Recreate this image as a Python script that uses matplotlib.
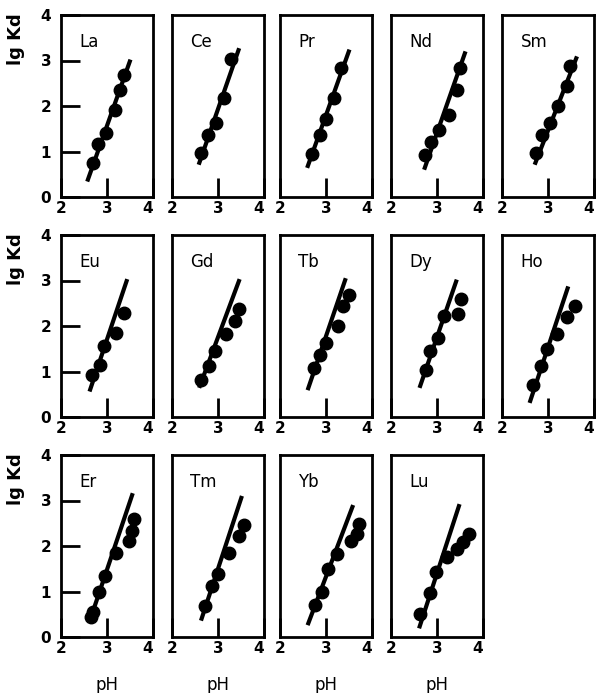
import matplotlib
matplotlib.use('Agg')
import matplotlib.pyplot as plt

# element names, in panel order (row by row)
labels = ['La', 'Ce', 'Pr', 'Nd', 'Sm',
          'Eu', 'Gd', 'Tb', 'Dy', 'Ho',
          'Er', 'Tm', 'Yb', 'Lu']

# fitted straight line for each panel: (pH start, pH end), (lg Kd start, lg Kd end)
fit_ph = [(2.57, 3.51), (2.58, 3.46), (2.59, 3.51), (2.72, 3.62), (2.71, 3.63),
          (2.62, 3.44), (2.59, 3.47), (2.60, 3.43), (2.62, 3.43), (2.60, 3.44),
          (2.62, 3.56), (2.63, 3.52), (2.60, 3.59), (2.61, 3.49)]
fit_kd = [(0.34, 3.02), (0.71, 3.27), (0.64, 3.24), (0.60, 3.20), (0.71, 3.09),
          (0.56, 3.03), (0.64, 3.03), (0.59, 3.05), (0.64, 3.02), (0.31, 2.87),
          (0.34, 3.16), (0.36, 3.10), (0.26, 2.90), (0.19, 2.92)]

# measured points
ph_points = [
    [2.70, 2.81, 2.98, 3.17, 3.28, 3.36],
    [2.64, 2.78, 2.95, 3.14, 3.28],
    [2.70, 2.86, 2.99, 3.18, 3.33],
    [2.73, 2.88, 3.04, 3.25, 3.44, 3.49],
    [2.73, 2.86, 3.04, 3.22, 3.41, 3.47],
    [2.67, 2.85, 2.93, 3.20, 3.38],
    [2.62, 2.80, 2.93, 3.17, 3.38, 3.46],
    [2.74, 2.88, 3.00, 3.25, 3.38, 3.51],
    [2.75, 2.85, 3.03, 3.16, 3.46, 3.52],
    [2.67, 2.84, 2.97, 3.20, 3.42, 3.59],
    [2.66, 2.70, 2.82, 2.96, 3.20, 3.47, 3.54, 3.59],
    [2.72, 2.87, 3.01, 3.23, 3.45, 3.56],
    [2.75, 2.91, 3.05, 3.24, 3.54, 3.67, 3.72],
    [2.64, 2.84, 2.97, 3.22, 3.44, 3.57, 3.70],
]
kd_points = [
    [0.75, 1.17, 1.41, 1.92, 2.36, 2.69],
    [0.97, 1.37, 1.63, 2.18, 3.03],
    [0.95, 1.37, 1.71, 2.18, 2.84],
    [0.93, 1.20, 1.48, 1.81, 2.36, 2.84],
    [0.97, 1.37, 1.63, 1.99, 2.45, 2.87],
    [0.93, 1.14, 1.55, 1.85, 2.29],
    [0.82, 1.11, 1.46, 1.82, 2.10, 2.37],
    [1.08, 1.37, 1.63, 1.99, 2.43, 2.69],
    [1.04, 1.44, 1.74, 2.21, 2.27, 2.59],
    [0.71, 1.11, 1.49, 1.82, 2.20, 2.43],
    [0.45, 0.55, 0.98, 1.35, 1.84, 2.12, 2.32, 2.59],
    [0.69, 1.13, 1.38, 1.85, 2.21, 2.47],
    [0.70, 1.00, 1.49, 1.82, 2.12, 2.26, 2.48],
    [0.51, 0.96, 1.42, 1.75, 1.93, 2.08, 2.26],
]

W, H = 596, 693
fig = plt.figure(figsize=(W / 100, H / 100), dpi=100)

col_left = [61, 172, 280, 391, 502]   # px
row_top = [15, 235, 455]              # px
ax_w, ax_h = 92, 182

for i, name in enumerate(labels):
    r, c = divmod(i, 5)
    left = col_left[c] / W
    bottom = (H - row_top[r] - ax_h) / H
    ax = fig.add_axes([left, bottom, ax_w / W, ax_h / H])

    ax.plot(fit_ph[i], fit_kd[i], color='black', lw=3, solid_capstyle='butt')
    ax.plot(ph_points[i], kd_points[i], 'o', color='black', ms=9)

    ax.set_xlim(2, 4)
    ax.set_ylim(0, 4)
    for s in ax.spines.values():
        s.set_linewidth(2)

    ax.text(0.2, 0.85, name, transform=ax.transAxes, fontsize=12,
            va='center', ha='left')

    ax.set_xticks([2, 3, 4])
    ax.set_xticklabels(['2', '3', '4'], fontsize=11, fontweight='bold')
    ax.get_xticklabels()[-1].set_horizontalalignment('right')
    ax.tick_params(axis='x', direction='in', length=14, width=2, pad=3)

    if c == 0:
        ax.set_yticks([0, 1, 2, 3, 4])
        ax.set_yticklabels(['0', '1', '2', '3', '4'], fontsize=11, fontweight='bold')
        ax.tick_params(axis='y', direction='in', length=14, width=2, pad=7)
        fig.text(16 / W, 1 - (row_top[r] - 2) / H, 'lg Kd', rotation=90,
                 fontsize=13, fontweight='bold', ha='center', va='top')
    else:
        ax.set_yticks([])

    if r == 2:
        ax.set_xlabel('pH', fontsize=12, labelpad=14)

fig.savefig('out.png', dpi=100)
